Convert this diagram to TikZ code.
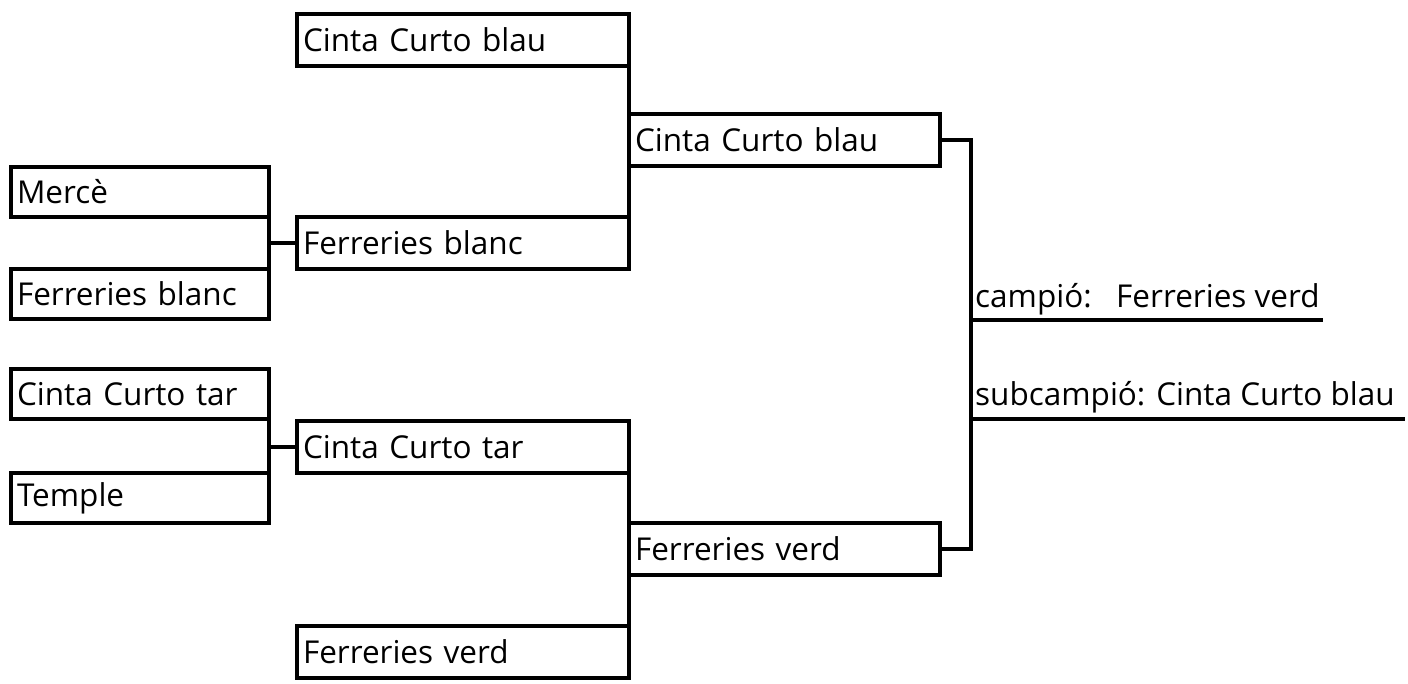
\documentclass[tikz,border=0pt]{standalone}
\usepackage{fontspec}
\setmainfont{Open Sans}
\begin{document}
\begin{tikzpicture}[x=1pt,y=-1pt,
  team/.style={draw, line width=3.2pt, outer sep=0pt, inner xsep=6pt, inner ysep=0pt, anchor=north west, align=left, font=\fontsize{31.5}{34}\selectfont},
  wideteam/.style={team, text width=320pt, minimum height=52pt},
  midteam/.style={team, text width=299pt, minimum height=52pt},
  leftteam/.style={team, text width=246pt, minimum height=50pt},
  conn/.style={line width=3.2pt},
  result/.style={anchor=base west, inner sep=0pt, font=\fontsize{31.5}{34}\selectfont}]
\useasboundingbox (0,0) rectangle (1408,683);
% round 1
\node[leftteam] (C) at (11,167) {Mercè};
\node[leftteam] (E) at (11,269) {Ferreries blanc};
\node[leftteam] (F) at (11,369) {Cinta Curto tar};
\node[leftteam] (H) at (11,473) {Temple};
% round 2
\node[wideteam] (A) at (297,14) {Cinta Curto blau};
\node[wideteam] (D) at (297,217) {Ferreries blanc};
\node[wideteam] (G) at (297,421) {Cinta Curto tar};
\node[wideteam] (J) at (297,626) {Ferreries verd};
% round 3
\node[midteam] (B) at (629,114) {Cinta Curto blau};
\node[midteam] (I) at (629,523) {Ferreries verd};
% connectors
\draw[conn] (C.south east) -- (E.north east);
\draw[conn] (D.west) -- (D.west -| C.east);
\draw[conn] (F.south east) -- (H.north east);
\draw[conn] (G.west) -- (G.west -| F.east);
\draw[conn] (A.south east) -- (D.north east);
\draw[conn] (G.south east) -- (J.north east);
\coordinate (rt) at (971,140);
\draw[conn] (B.east) -- (B.east -| rt) |- (I.east);
% results
\coordinate (c1) at (971,320);
\coordinate (c2) at (1323,320);
\coordinate (s1) at (971,419);
\coordinate (s2) at (1405,419);
\draw[conn] (c1) -- (c2);
\draw[conn] (s1) -- (s2);
\node[result] (champ) at (975,307) {campió:\ \ \ Ferreries verd};
\node[result] (sub) at (975,405) {subcampió: Cinta Curto blau};
\end{tikzpicture}
\end{document}
